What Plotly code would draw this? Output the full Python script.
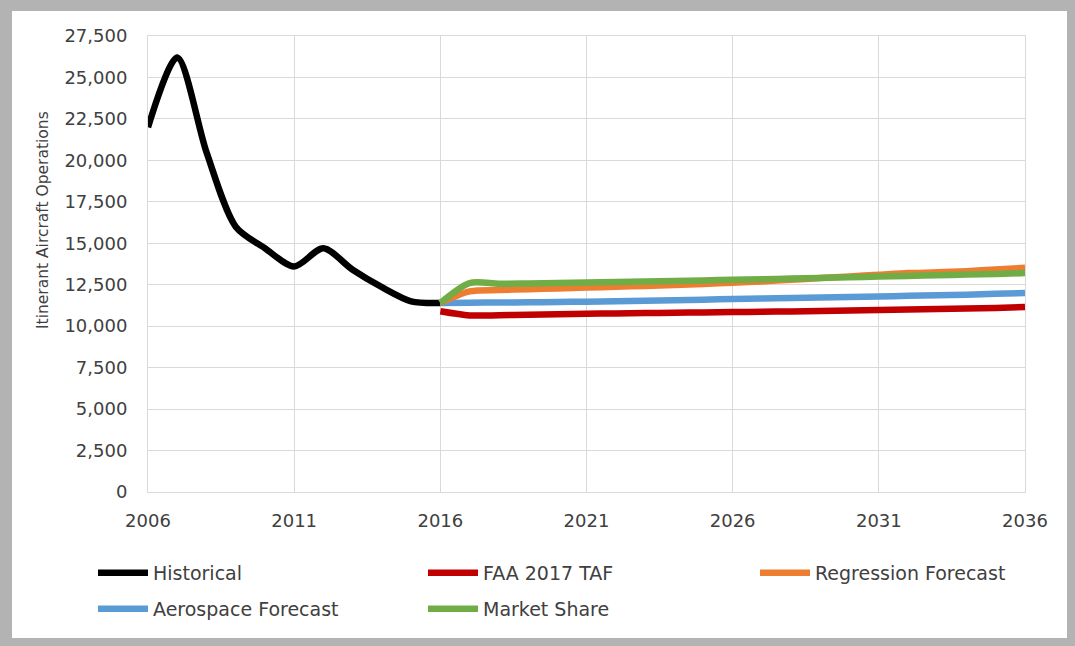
import plotly.graph_objects as go

hist_years = list(range(2006, 2017))
historical = [22000, 26200, 20500, 16000, 14700, 13600, 14700, 13400, 12350, 11500, 11400]

fc_years = list(range(2016, 2037))
faa_taf = [10900, 10650, 10660, 10690, 10720, 10750, 10770, 10790, 10810, 10830, 10850,
           10870, 10890, 10910, 10940, 10970, 11000, 11030, 11060, 11100, 11150]
regression = [11400, 12100, 12180, 12230, 12280, 12330, 12380, 12430, 12480, 12550, 12620,
              12700, 12800, 12900, 13000, 13100, 13200, 13250, 13320, 13420, 13520]
aerospace = [11400, 11420, 11430, 11440, 11460, 11480, 11510, 11540, 11570, 11600, 11640,
             11670, 11700, 11730, 11760, 11790, 11830, 11870, 11900, 11950, 12000]
market_share = [11400, 12600, 12560, 12580, 12610, 12640, 12660, 12690, 12720, 12760, 12800,
                12830, 12870, 12910, 12950, 12990, 13030, 13070, 13110, 13150, 13200]

y_title = "Itinerant Aircraft Operations"

# name, x, y, colour, legend slot (draw order as listed)
series = [
    ("Historical", hist_years, historical, "#000000", "legend"),
    ("FAA 2017 TAF", fc_years, faa_taf, "#c00000", "legend"),
    ("Aerospace Forecast", fc_years, aerospace, "#5b9bd5", "legend2"),
    ("Regression Forecast", fc_years, regression, "#ed7d31", "legend3"),
    ("Market Share", fc_years, market_share, "#70ad47", "legend2"),
]
legend_rank = {"Historical": 1, "FAA 2017 TAF": 2, "Regression Forecast": 3,
               "Aerospace Forecast": 4, "Market Share": 5}

fig = go.Figure()
for name, xs, ys, col, lg in series:
    fig.add_trace(go.Scatter(x=xs, y=ys, name=name, mode="lines", legend=lg,
                             legendrank=legend_rank[name],
                             line=dict(color=col, width=6.5, shape="spline", smoothing=0.8)))

FONT = "DejaVu Sans, Verdana, sans-serif"
W, H = 1059, 630          # page body has an 8px margin -> fills 1075x646 window
OFF = 8
PL, PT, PW, PH = 148, 36, 877, 456   # plot area in window pixels


def px_x(x):
    return (x - PL) / PW


def px_y(y):
    return (PT + PH - y) / PH


legend_common = dict(orientation="h", xanchor="left", yanchor="middle",
                     traceorder="normal",
                     font=dict(family=FONT, size=19, color="#404040"), itemwidth=50,
                     bgcolor="rgba(0,0,0,0)")

fig.update_layout(
    width=W, height=H,
    margin=dict(l=PL - OFF, r=W - (PL - OFF) - PW, t=PT - OFF, b=H - (PT - OFF) - PH,
                autoexpand=False),
    paper_bgcolor="#b3b3b3",
    plot_bgcolor="white",
    font=dict(family=FONT, size=18, color="#404040"),
    showlegend=True,
    legend=dict(x=px_x(93), y=px_y(573), entrywidth=265, entrywidthmode="pixels",
                **legend_common),
    legend2=dict(x=px_x(93), y=px_y(609), entrywidth=265, entrywidthmode="pixels",
                 **legend_common),
    legend3=dict(x=px_x(755), y=px_y(573), **legend_common),
    shapes=[dict(type="rect", xref="paper", yref="paper",
                 x0=px_x(12), x1=px_x(1072), y0=px_y(650), y1=px_y(11),
                 fillcolor="white", line=dict(width=0), layer="below")],
    annotations=[dict(text=y_title, textangle=-90, xref="paper", yref="paper",
                      x=px_x(43), y=px_y(220), xanchor="center", yanchor="middle",
                      showarrow=False, font=dict(family=FONT, size=15.5, color="#404040"))],
)

fig.update_xaxes(range=[2006, 2036], tickmode="linear", tick0=2006, dtick=5,
                 showgrid=True, gridcolor="#d9d9d9", gridwidth=1,
                 showline=True, linecolor="#d9d9d9", mirror=True, zeroline=False,
                 ticks="", tickfont=dict(size=18, color="#404040"), ticklabelstandoff=12)
fig.update_yaxes(range=[0, 27500], tickmode="linear", tick0=0, dtick=2500,
                 tickformat=",", showgrid=True, gridcolor="#d9d9d9", gridwidth=1,
                 showline=True, linecolor="#d9d9d9", mirror=True, zeroline=False,
                 ticks="", tickfont=dict(size=18, color="#404040"), ticklabelstandoff=16)

fig.write_html("out.html",
               post_script="document.body.style.backgroundColor='#b3b3b3';")
